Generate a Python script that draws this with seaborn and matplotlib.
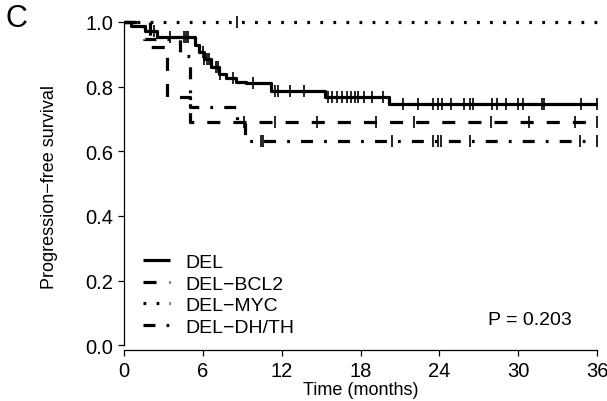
import numpy as np
import matplotlib
matplotlib.use("Agg")
import matplotlib.pyplot as plt
import seaborn as sns
import pandas as pd

sns.set_style("ticks")
plt.rcParams['font.family'] = ['Liberation Sans', 'DejaVu Sans']
plt.rcParams['lines.scale_dashes'] = False
plt.rcParams['text.color'] = 'black'
plt.rcParams['axes.labelcolor'] = 'black'

# ---- data ----
groups = ["DEL", "DEL\u2212BCL2", "DEL\u2212MYC", "DEL\u2212DH/TH"]

del_t = [0, 0.5, 1.6, 2.5, 5.4, 5.7, 6.1, 6.6, 7.2, 7.8, 8.5, 9.3, 11.2, 15.3, 20.2, 36]
del_s = [1.0, 0.987, 0.973, 0.953, 0.93, 0.906, 0.884, 0.862, 0.84, 0.828, 0.815, 0.81,
         0.785, 0.768, 0.747, 0.747]
del_cens = [2.3, 3.5, 4.6, 4.75, 4.9, 6.0, 6.1, 6.3, 6.5, 7.0, 7.15, 7.3, 8.3, 9.85,
            11.5, 11.7, 12.6, 13.7, 15.5, 15.8, 16.2, 16.6, 17.0, 17.3, 17.6, 17.8,
            18.3, 18.9, 19.7, 21.2, 22.4, 23.5, 23.9, 24.2, 24.9, 25.9, 26.3, 26.6,
            28.0, 28.4, 29.1, 30.0, 30.4, 31.8, 32.0, 34.8, 36.0]

bcl2_t = [0, 2.0, 3.3, 5.0, 36]
bcl2_s = [1.0, 0.923, 0.769, 0.692, 0.692]
bcl2_cens = [9.1, 11.5, 14.7, 19.2, 22.1, 27.9, 30.8, 34.3, 36.0]

myc_t = [0, 36]
myc_s = [1.0, 1.0]
myc_cens = [8.6]

dh_t = [0, 1.5, 4.3, 5.0, 8.6, 9.2, 36]
dh_s = [1.0, 0.947, 0.895, 0.737, 0.684, 0.632, 0.632]
dh_cens = [10.4, 10.6, 20.4, 23.5, 23.9, 24.1, 26.3, 34.7, 36.0]

x_ticks = [0, 6, 12, 18, 24, 30, 36]
y_ticks = [0.0, 0.2, 0.4, 0.6, 0.8, 1.0]
p_text = "P = 0.203"

# ---- styles ----
styles = {
    "DEL": "-",
    "DEL\u2212BCL2": (0, (9.4, 9.4)),
    "DEL\u2212MYC": (0, (2.0, 7.4)),
    "DEL\u2212DH/TH": (0, (8.6, 8.0, 2.0, 8.0)),
}

fig = plt.figure(figsize=(6.07, 4.02), dpi=100)
ax = fig.add_axes([124/607, 1 - 351/402, 473/607, 328/402])

series = [
    ("DEL", del_t, del_s, del_cens),
    ("DEL\u2212BCL2", bcl2_t, bcl2_s, bcl2_cens),
    ("DEL\u2212MYC", myc_t, myc_s, myc_cens),
    ("DEL\u2212DH/TH", dh_t, dh_s, dh_cens),
]

def surv_at(t_arr, s_arr, t):
    i = np.searchsorted(np.asarray(t_arr), t, side="right") - 1
    i = min(max(i, 0), len(s_arr) - 1)
    return s_arr[i]

for name, t, s, cens in series:
    df = pd.DataFrame({"time": t, "surv": s})
    sns.lineplot(data=df, x="time", y="surv", ax=ax, drawstyle="steps-post",
                 estimator=None, sort=False, color="black", linewidth=2.3,
                 linestyle=styles[name], label=name, clip_on=False,
                 solid_capstyle="butt", dash_capstyle="butt")
    cy = [surv_at(t, s, c) for c in cens]
    ax.plot(cens, cy, linestyle="none", marker="|", markersize=9,
            markeredgewidth=1.2, color="black", clip_on=False)

ax.set_xlim(0, 36)
ax.set_ylim(-0.015, 1.0)
ax.set_xticks(x_ticks)
ax.set_xticklabels([str(v) for v in x_ticks])
ax.set_yticks(y_ticks)
ax.set_yticklabels([f"{v:.1f}" for v in y_ticks])
ax.spines["top"].set_visible(False)
ax.spines["right"].set_visible(False)
ax.spines["left"].set_bounds(0, 1)
ax.spines["bottom"].set_bounds(0, 36)
for sp in ("left", "bottom"):
    ax.spines[sp].set_linewidth(0.9)
    ax.spines[sp].set_color("black")
ax.tick_params(axis="both", direction="out", length=4, width=0.9, colors="black",
               labelsize=14.5, pad=4)
ax.set_xlabel("Time (months)", fontsize=13, labelpad=1, color="black")
ax.set_ylabel("Progression\u2212free survival", fontsize=13, labelpad=19, color="black")

leg = ax.legend(loc="upper left", bbox_to_anchor=(0.040, 0.294), frameon=False,
                fontsize=14, handlelength=1.4, handletextpad=0.77, labelspacing=0.2,
                borderpad=0, borderaxespad=0)
for txt in leg.get_texts():
    txt.set_color("black")

ax.text(27.7, 0.08, p_text, fontsize=14, ha="left", va="center", color="black")
fig.text(16/607, 1 - 19/402, "C", fontsize=22, ha="center", va="center", color="black")

fig.savefig("out.png", dpi=100)
